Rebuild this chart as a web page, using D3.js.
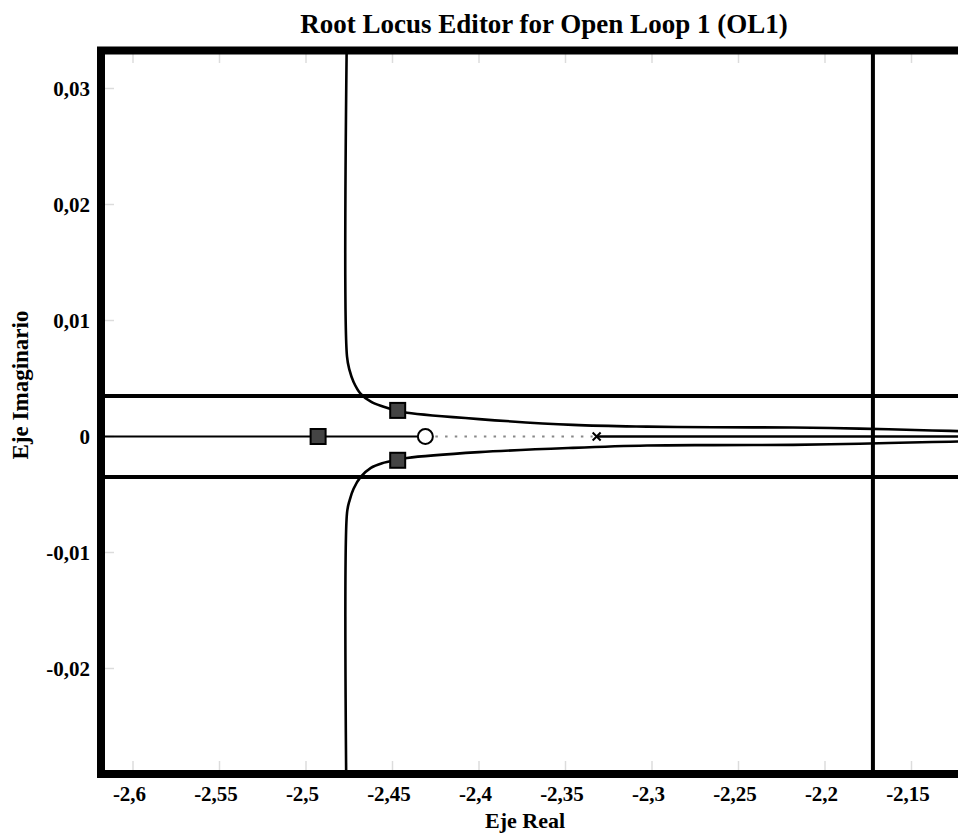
<!DOCTYPE html>
<html>
<head>
<meta charset="utf-8">
<script src="https://cdn.jsdelivr.net/npm/d3@7"></script>
<style>
  html, body { margin: 0; padding: 0; background: #fff; }
  svg { display: block; }
  text { font-family: "Liberation Serif", "Times New Roman", serif; font-weight: bold; fill: #000; }
</style>
</head>
<body>
<div id="chart"></div>
<script>
// tick values
const xTicks = [-2.6, -2.55, -2.5, -2.45, -2.4, -2.35, -2.3, -2.25, -2.2, -2.15];
const yTicks = [0.03, 0.02, 0.01, 0, -0.01, -0.02];

// open loop pole / zero and closed loop poles
const olZero = [-2.431, 0];
const olPole = [-2.332, 0];
const clPolesRe = [-2.493, -2.447, -2.447];
const clPolesIm = [0, 0.00225, -0.00205];

// complex branches (real, imag)
const upperRe = [-2.4763, -2.4763, -2.4748, -2.4725, -2.4685, -2.4625, -2.4560, -2.4468, -2.4416, -2.40, -2.3457, -2.3029, -2.2647, -2.2185, -2.18, -2.138, -2.11];
const upperIm = [0.036, 0.0069, 0.0057, 0.0047, 0.0037, 0.0030, 0.0026, 0.0022, 0.00205, 0.00150, 0.00100, 0.00085, 0.00080, 0.00077, 0.00068, 0.00052, 0.00042];
const lowerRe = [-2.4763, -2.4763, -2.4748, -2.4725, -2.4685, -2.4625, -2.4560, -2.4468, -2.4416, -2.40, -2.3457, -2.3029, -2.2647, -2.2185, -2.18, -2.138, -2.11];
const lowerIm = [-0.036, -0.0066, -0.0055, -0.0045, -0.0035, -0.0027, -0.0023, -0.0020, -0.00185, -0.00135, -0.00098, -0.00078, -0.00074, -0.00072, -0.00062, -0.00048, -0.00040];

// real axis segments
const realLeft = [-2.7, olZero[0]];
const realMid = [olZero[0], olPole[0]];
const realRight = [olPole[0], -2.0];

// design constraint lines
const dampLines = [0.0035, -0.0035];
const settleLine = -2.1723;

const width = 958, height = 837;
const plot = { left: 105, top: 54, right: 1010, bottom: 770 };
const serif = '"Liberation Serif", "Times New Roman", serif';

const x = d3.scaleLinear().domain([-2.6, -2.15]).range([133, 911.5]);
const y = d3.scaleLinear().domain([0.03, -0.02]).range([88.5, 668.5]);

const svg = d3.select('#chart').append('svg').attr('width', width).attr('height', height);

svg.append('defs').append('clipPath').attr('id', 'clip')
  .append('rect').attr('x', plot.left).attr('y', plot.top)
  .attr('width', plot.right - plot.left).attr('height', plot.bottom - plot.top);

// title
svg.append('text').attr('x', 544).attr('y', 33).attr('text-anchor', 'middle')
  .attr('font-size', '27px').text('Root Locus Editor for Open Loop 1 (OL1)');

// faint ticks inside frame
const g = svg.append('g').attr('clip-path', 'url(#clip)');
const tickCol = '#dcdcdc';
g.selectAll('.tt').data(xTicks).enter().append('line')
  .attr('x1', d => x(d)).attr('x2', d => x(d)).attr('y1', plot.top).attr('y2', plot.top + 9)
  .attr('stroke', tickCol).attr('stroke-width', 1.5);
g.selectAll('.tb').data(xTicks).enter().append('line')
  .attr('x1', d => x(d)).attr('x2', d => x(d)).attr('y1', plot.bottom).attr('y2', plot.bottom - 9)
  .attr('stroke', tickCol).attr('stroke-width', 1.5);
g.selectAll('.tl').data(yTicks).enter().append('line')
  .attr('x1', plot.left).attr('x2', plot.left + 9).attr('y1', d => y(d)).attr('y2', d => y(d))
  .attr('stroke', tickCol).attr('stroke-width', 1.5);

// constraint lines
g.selectAll('.damp').data(dampLines).enter().append('line')
  .attr('x1', plot.left).attr('x2', plot.right).attr('y1', d => y(d)).attr('y2', d => y(d))
  .attr('stroke', '#000').attr('stroke-width', 4);
g.append('line').attr('x1', x(settleLine)).attr('x2', x(settleLine))
  .attr('y1', plot.top).attr('y2', plot.bottom).attr('stroke', '#000').attr('stroke-width', 4);

// real axis
g.append('line').attr('x1', x(realLeft[0])).attr('x2', x(realLeft[1]) - 8)
  .attr('y1', y(0)).attr('y2', y(0)).attr('stroke', '#000').attr('stroke-width', 2);
g.append('line').attr('x1', x(realMid[0]) + 10).attr('x2', x(realMid[1]) - 4)
  .attr('y1', y(0)).attr('y2', y(0)).attr('stroke', '#888').attr('stroke-width', 2)
  .attr('stroke-dasharray', '2.5,7.2');
g.append('line').attr('x1', x(realRight[0])).attr('x2', x(realRight[1]))
  .attr('y1', y(0)).attr('y2', y(0)).attr('stroke', '#000').attr('stroke-width', 2.5);

// branches
const line = d3.line().x(d => x(d[0])).y(d => y(d[1])).curve(d3.curveCatmullRom.alpha(0.5));
g.append('path').attr('d', line(upperRe.map((r, i) => [r, upperIm[i]])))
  .attr('fill', 'none').attr('stroke', '#000').attr('stroke-width', 2.6);
g.append('path').attr('d', line(lowerRe.map((r, i) => [r, lowerIm[i]])))
  .attr('fill', 'none').attr('stroke', '#000').attr('stroke-width', 2.6);

// open loop zero
g.append('circle').attr('cx', x(olZero[0])).attr('cy', y(olZero[1])).attr('r', 7.5)
  .attr('fill', '#fff').attr('stroke', '#000').attr('stroke-width', 2);
// open loop pole
const px = x(olPole[0]), py = y(olPole[1]);
g.append('path').attr('d', `M${px - 4},${py - 4}L${px + 4},${py + 4}M${px - 4},${py + 4}L${px + 4},${py - 4}`)
  .attr('stroke', '#000').attr('stroke-width', 2);

// closed loop poles
g.selectAll('.clp').data(clPolesRe).enter().append('rect')
  .attr('x', (d, i) => x(d) - 7.5).attr('y', (d, i) => y(clPolesIm[i]) - 7.5)
  .attr('width', 15).attr('height', 15)
  .attr('fill', '#444').attr('stroke', '#000').attr('stroke-width', 2);

// frame
svg.append('rect').attr('x', 101).attr('y', 50.5).attr('width', 1000).attr('height', 723.5)
  .attr('fill', 'none').attr('stroke', '#000').attr('stroke-width', 8);

// axes labels
const fmt = d => String(d).replace('.', ',');
const xAxis = svg.append('g').attr('transform', `translate(0,${plot.bottom + 8})`)
  .call(d3.axisBottom(x).tickValues(xTicks).tickFormat(fmt).tickSize(0).tickPadding(0))
  .attr('font-family', serif).attr('font-size', 21);
xAxis.select('.domain').remove();
xAxis.selectAll('text').attr('font-size', '21px').attr('font-family', serif)
  .attr('dy', null).attr('y', 23).attr('dx', -4).attr('fill', '#000');

const yAxis = svg.append('g').attr('transform', 'translate(90,0)')
  .call(d3.axisLeft(y).tickValues(yTicks).tickFormat(fmt).tickSize(0).tickPadding(0))
  .attr('font-family', serif).attr('font-size', 21);
yAxis.select('.domain').remove();
yAxis.selectAll('text').attr('font-size', '21px').attr('font-family', serif)
  .attr('dy', '0.35em').attr('x', 0).attr('fill', '#000');

svg.append('text').attr('x', 525).attr('y', 828).attr('text-anchor', 'middle')
  .attr('font-size', '22px').text('Eje Real');
svg.append('text').attr('transform', 'translate(28,385) rotate(-90)').attr('text-anchor', 'middle')
  .attr('font-size', '23px').text('Eje Imaginario');
</script>
</body>
</html>
